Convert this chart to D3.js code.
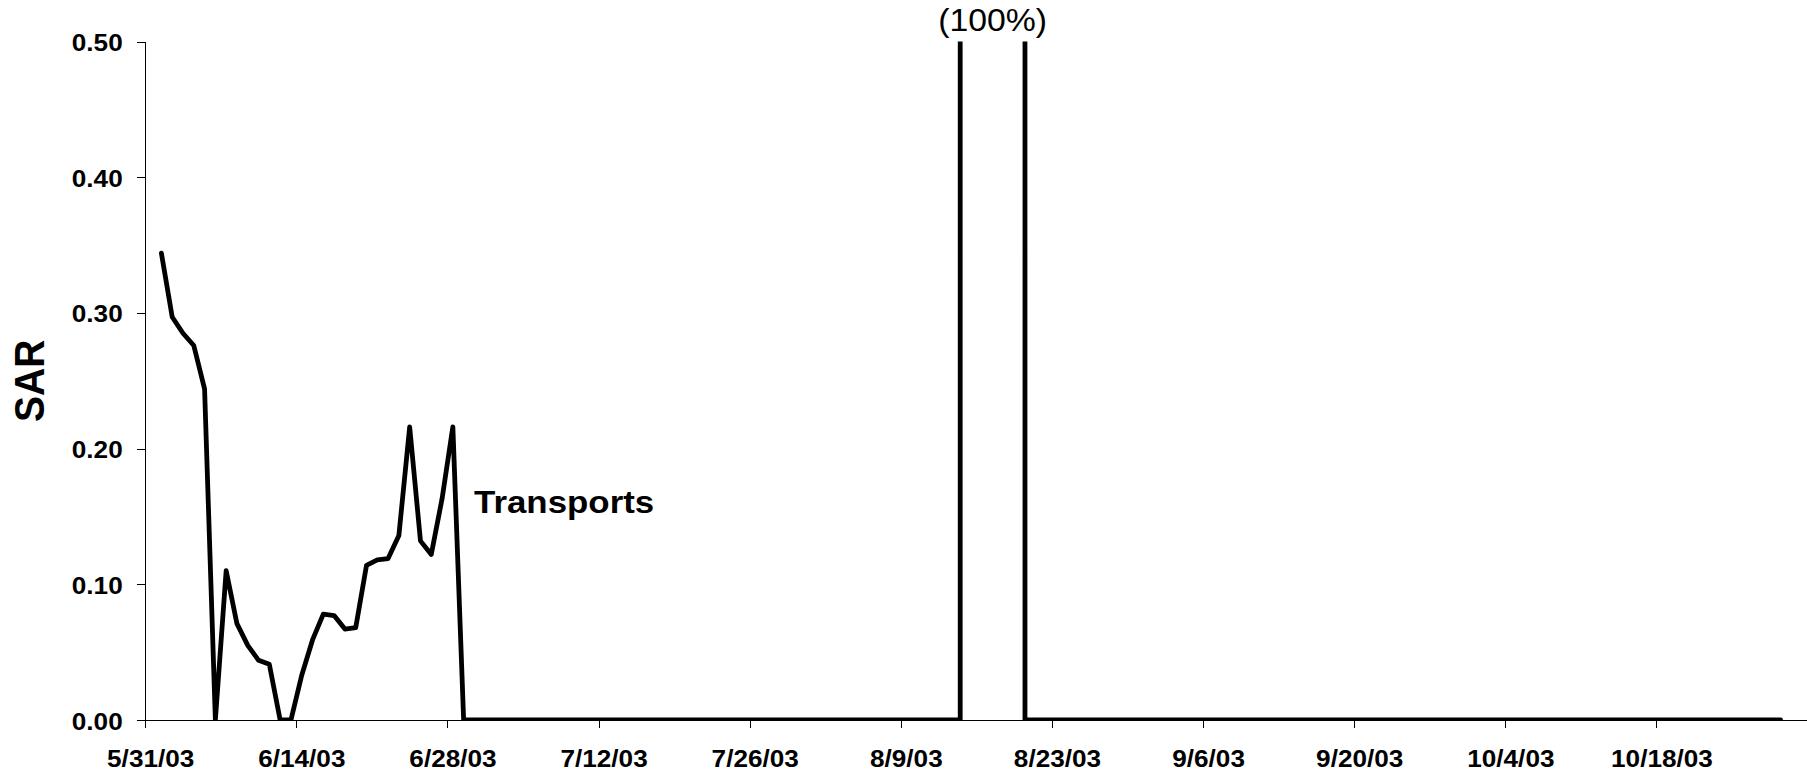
<!DOCTYPE html>
<html>
<head>
<meta charset="utf-8">
<script src="https://cdn.jsdelivr.net/npm/d3@7"></script>
<style>
  html, body { margin: 0; padding: 0; background: #fff; }
  svg { display: block; font-family: "Liberation Sans", Arial, sans-serif; }
</style>
</head>
<body>
<svg id="chart" width="1807" height="774"></svg>
<script>
// ---------- data ----------
const dates = [
  "6/1","6/2","6/3","6/4","6/5","6/6","6/7","6/8","6/9","6/10","6/11","6/12","6/13","6/14","6/15",
  "6/16","6/17","6/18","6/19","6/20","6/21","6/22","6/23","6/24","6/25","6/26","6/27","6/28","6/29","6/30",
  "7/1","7/2","7/3","7/4","7/5","7/6","7/7","7/8","7/9","7/10","7/11","7/12","7/13","7/14","7/15","7/16",
  "7/17","7/18","7/19","7/20","7/21","7/22","7/23","7/24","7/25","7/26","7/27","7/28","7/29","7/30","7/31",
  "8/1","8/2","8/3","8/4","8/5","8/6","8/7","8/8","8/9","8/10","8/11","8/12","8/13","8/14","8/14",
  "8/15","8/16","8/17","8/18","8/19","8/20","8/20","8/21","8/22","8/23","8/24","8/25","8/26","8/27",
  "8/28","8/29","8/30","8/31",
  "9/1","9/2","9/3","9/4","9/5","9/6","9/7","9/8","9/9","9/10","9/11","9/12","9/13","9/14","9/15",
  "9/16","9/17","9/18","9/19","9/20","9/21","9/22","9/23","9/24","9/25","9/26","9/27","9/28","9/29","9/30",
  "10/1","10/2","10/3","10/4","10/5","10/6","10/7","10/8","10/9","10/10","10/11","10/12","10/13","10/14",
  "10/15","10/16","10/17","10/18","10/19","10/20","10/21","10/22","10/23","10/24","10/25","10/26","10/27",
  "10/28","10/29"
];
const sar = [
  // June
  0.344,0.297,0.285,0.276,0.244,0,0.110,0.071,0.055,0.044,0.041,0,0,0.033,0.059,
  0.078,0.077,0.067,0.068,0.114,0.118,0.119,0.136,0.216,0.132,0.122,0.163,0.216,0,0,
  // July
  0,0,0,0,0,0,0,0,0,0,0,0,0,0,0,0,
  0,0,0,0,0,0,0,0,0,0,0,0,0,0,0,
  // August (8/14 and 8/20 appear twice: jump to and from 100%)
  0,0,0,0,0,0,0,0,0,0,0,0,0,0,1.0,
  1.0,1.0,1.0,1.0,1.0,1.0,0,0,0,0,0,0,0,0,
  0,0,0,0,
  // September
  0,0,0,0,0,0,0,0,0,0,0,0,0,0,0,
  0,0,0,0,0,0,0,0,0,0,0,0,0,0,0,
  // October
  0,0,0,0,0,0,0,0,0,0,0,0,0,0,
  0,0,0,0,0,0,0,0,0,0,0,0,0,
  0,0
];
const xDomain = ["5/31", "11/1"];
const xTickLabels = ["5/31","6/14","6/28","7/12","7/26","8/9","8/23","9/6","9/20","10/4","10/18","11/1"];
const yTicks = [0, 0.1, 0.2, 0.3, 0.4, 0.5];
const seriesLabel = "Transports";
const spikeLabel = "(100%)";
const yTitle = "SAR";

// ---------- setup ----------
const parse = s => d3.timeParse("%m/%d/%Y")(s + "/2003");
const svg = d3.select("#chart");
const pl = 145.2, pr = 1807.6, pt = 41.5, pb = 720;
const SX = 1.09; // horizontal text stretch in the reference

const x = d3.scaleTime().domain(xDomain.map(parse)).range([pl, pr]);
const y = d3.scaleLinear().domain([0, 0.5]).range([pb, pt]);

const data = dates.map((d, i) => ({ date: parse(d), v: sar[i] }));
const xc = d => x(d3.timeHour.offset(d, 12)); // points centered in their day

svg.append("defs").append("clipPath").attr("id", "plotclip")
  .append("rect").attr("x", pl).attr("y", pt)
  .attr("width", pr - pl).attr("height", pb - pt);

// ---------- axes ----------
const xTicks = xTickLabels.map(parse);
const xAxis = d3.axisBottom(x).tickValues(xTicks).tickSize(8).tickSizeOuter(0)
  .tickFormat((d, i) => i === xTicks.length - 1 ? "" : d3.timeFormat("%-m/%-d/%y")(d));
const gx = svg.append("g").attr("transform", `translate(0,${pb})`).call(xAxis);
gx.selectAll("path, line").attr("stroke", "#000").attr("stroke-width", 1).attr("shape-rendering", "crispEdges");
gx.selectAll("text")
  .attr("fill", "#000").attr("font-size", 24).attr("font-weight", "bold")
  .attr("y", null).attr("dy", null).attr("x", null)
  .attr("transform", `translate(5,47) scale(${SX},1)`);

const yAxis = d3.axisLeft(y).tickValues(yTicks).tickSize(8).tickSizeOuter(0).tickFormat(d3.format(".2f"));
const gy = svg.append("g").attr("transform", `translate(${pl},0)`).call(yAxis);
gy.selectAll("path, line").attr("stroke", "#000").attr("stroke-width", 1).attr("shape-rendering", "crispEdges");
gy.selectAll("text")
  .attr("fill", "#000").attr("font-size", 24).attr("font-weight", "bold")
  .attr("x", null).attr("dy", null).attr("y", null)
  .attr("transform", `translate(-22.5,9) scale(${SX},1)`);

// ---------- line ----------
const line = d3.line().x(d => xc(d.date)).y(d => y(d.v));
svg.append("path").datum(data)
  .attr("clip-path", "url(#plotclip)")
  .attr("d", line)
  .attr("fill", "none").attr("stroke", "#000").attr("stroke-width", 4.8)
  .attr("stroke-linejoin", "round").attr("stroke-linecap", "round");

// ---------- labels ----------
svg.append("text")
  .attr("transform", `translate(474,512.7) scale(${SX},1)`)
  .attr("font-size", 32).attr("font-weight", "bold").attr("fill", "#000")
  .text(seriesLabel);

const spikeDates = data.filter(d => d.v >= 1).map(d => d.date);
const spikeMid = (xc(spikeDates[0]) + xc(spikeDates[spikeDates.length - 1])) / 2;
svg.append("text")
  .attr("transform", `translate(${spikeMid},31) scale(${SX},1)`)
  .attr("text-anchor", "middle")
  .attr("font-size", 31).attr("fill", "#000")
  .text(spikeLabel);

svg.append("text")
  .attr("transform", `translate(44,${(pt + pb) / 2}) scale(${SX},1) rotate(-90)`)
  .attr("text-anchor", "middle")
  .attr("font-size", 39).attr("font-weight", "bold").attr("fill", "#000")
  .text(yTitle);
</script>
</body>
</html>
